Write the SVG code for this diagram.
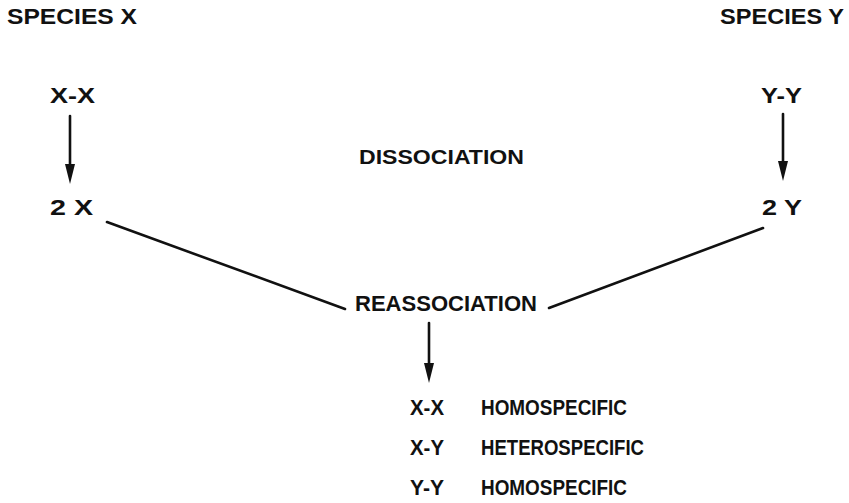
<svg xmlns="http://www.w3.org/2000/svg" width="849" height="503" viewBox="0 0 849 503">
<style>
text{font-family:"Liberation Sans","DejaVu Sans",sans-serif;font-weight:bold;font-size:22px;fill:#111}
.ln{stroke:#111;stroke-width:2.6;fill:none;stroke-linecap:round}
.hd{fill:#111}
</style>
<rect width="849" height="503" fill="#fff"/>
<g id="speciesX"><text x="7" y="24" textLength="130" lengthAdjust="spacingAndGlyphs">SPECIES X</text></g>
<g id="speciesY"><text x="720" y="24" textLength="124" lengthAdjust="spacingAndGlyphs">SPECIES Y</text></g>
<g id="xx"><text x="50" y="103" textLength="45" lengthAdjust="spacingAndGlyphs">X-X</text></g>
<g id="yy"><text x="761" y="103" textLength="41" lengthAdjust="spacingAndGlyphs">Y-Y</text></g>
<g id="twoX"><text x="50" y="215" textLength="43" lengthAdjust="spacingAndGlyphs">2 X</text></g>
<g id="twoY"><text x="762" y="215" textLength="40" lengthAdjust="spacingAndGlyphs">2 Y</text></g>
<g id="dissociation"><text x="359" y="164" textLength="165" lengthAdjust="spacingAndGlyphs" style="font-size:21px">DISSOCIATION</text></g>
<g id="reassociation"><text x="355" y="311" textLength="182" lengthAdjust="spacingAndGlyphs">REASSOCIATION</text></g>
<g id="products">
<text x="410" y="415" textLength="34" lengthAdjust="spacingAndGlyphs">X-X</text>
<text x="481" y="415" textLength="146" lengthAdjust="spacingAndGlyphs">HOMOSPECIFIC</text>
<text x="410" y="455" textLength="34" lengthAdjust="spacingAndGlyphs">X-Y</text>
<text x="481" y="455" textLength="163" lengthAdjust="spacingAndGlyphs">HETEROSPECIFIC</text>
<text x="410" y="495" textLength="34" lengthAdjust="spacingAndGlyphs">Y-Y</text>
<text x="481" y="495" textLength="146" lengthAdjust="spacingAndGlyphs">HOMOSPECIFIC</text>
</g>
<g id="connectors">
<line class="ln" x1="70" y1="116" x2="70" y2="168"/>
<path class="hd" d="M65,164 L70,184 L75,164 Z"/>
<line class="ln" x1="783" y1="114" x2="783" y2="165"/>
<path class="hd" d="M778,161 L783,181 L788,161 Z"/>
<line class="ln" x1="429" y1="323" x2="429" y2="367"/>
<path class="hd" d="M424,363 L429,383 L434,363 Z"/>
<line class="ln" x1="107" y1="222" x2="345" y2="309"/>
<line class="ln" x1="549" y1="308" x2="763" y2="228"/>
</g>
</svg>
